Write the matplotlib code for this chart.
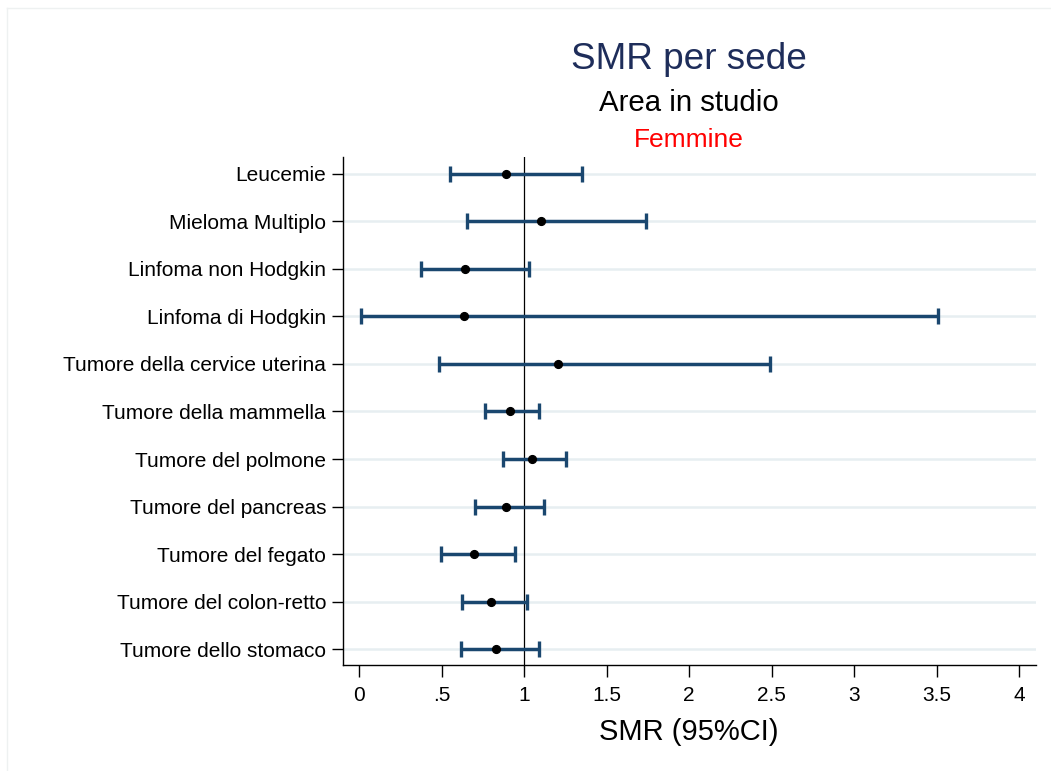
import numpy as np
import matplotlib
matplotlib.use("Agg")
import matplotlib.pyplot as plt
from matplotlib.lines import Line2D

plt.rcParams['font.family'] = ['Liberation Sans', 'DejaVu Sans']

# SMR per sede, femmine (top to bottom)
sedi = ["Leucemie", "Mieloma Multiplo", "Linfoma non Hodgkin", "Linfoma di Hodgkin",
        "Tumore della cervice uterina", "Tumore della mammella", "Tumore del polmone",
        "Tumore del pancreas", "Tumore del fegato", "Tumore del colon-retto",
        "Tumore dello stomaco"]
smr = [0.887, 1.101, 0.642, 0.633, 1.204, 0.913, 1.047, 0.891, 0.693, 0.798, 0.830]
ci_low = [0.550, 0.653, 0.376, 0.008, 0.485, 0.764, 0.869, 0.703, 0.495, 0.622, 0.616]
ci_high = [1.350, 1.739, 1.028, 3.509, 2.489, 1.087, 1.253, 1.121, 0.942, 1.016, 1.091]
xticks = [0, 0.5, 1, 1.5, 2, 2.5, 3, 3.5, 4]
xticklabels = ["0", ".5", "1", "1.5", "2", "2.5", "3", "3.5", "4"]

W, H = 1051, 771
fig = plt.figure(figsize=(W / 100, H / 100), dpi=100)
fig.patch.set_facecolor("white")

# faint outer frame (top and left)
fig.add_artist(Line2D([7 / W, 7 / W], [0, 1 - 8 / H], color="#eef1f1", lw=1))
fig.add_artist(Line2D([7 / W, 1], [1 - 8 / H, 1 - 8 / H], color="#eef1f1", lw=1))

ax = fig.add_axes([342.7 / W, 1 - 664.7 / H, (1035.8 - 342.7) / W, (664.7 - 157.3) / H])

n = len(sedi)
ypos = np.arange(n)[::-1]
smr = np.array(smr)
lo = np.array(ci_low)
hi = np.array(ci_high)

for y in ypos:
    ax.axhline(y, color="#e7eef1", lw=1.8, zorder=0)

ax.axvline(1, color="black", lw=0.9, zorder=1)

ax.errorbar(smr, ypos, xerr=[smr - lo, hi - smr], fmt="none", ecolor="#1a476f",
            elinewidth=2.5, capsize=6, capthick=2.4, zorder=2)
ax.plot(smr, ypos, "o", color="black", ms=5.6, zorder=3)

ax.set_xlim(-0.1, 4.1)
ax.set_ylim(-0.324, n - 1 + 0.345)
ax.set_yticks(ypos)
ax.set_yticklabels(sedi, fontsize=15)
ax.set_xticks(xticks)
ax.set_xticklabels(xticklabels, fontsize=15)
ax.tick_params(axis="y", length=8, width=1, pad=4)
ax.tick_params(axis="x", length=8.5, width=1, pad=7)
for s in ["top", "right"]:
    ax.spines[s].set_visible(False)
for s in ["left", "bottom"]:
    ax.spines[s].set_linewidth(1)
ax.set_xlabel("SMR (95%CI)", fontsize=21, labelpad=9)

cx = (342.7 + 1035.8) / 2 / W
fig.text(cx, 1 - 69.3 / H, "SMR per sede", fontsize=26.6, color="#1e2d5a", ha="center", va="baseline")
fig.text(cx, 1 - 111 / H, "Area in studio", fontsize=21.2, color="black", ha="center", va="baseline")
fig.text(cx, 1 - 146.7 / H, "Femmine", fontsize=19, color="red", ha="center", va="baseline")

fig.savefig("out.png", dpi=100, facecolor="white")
